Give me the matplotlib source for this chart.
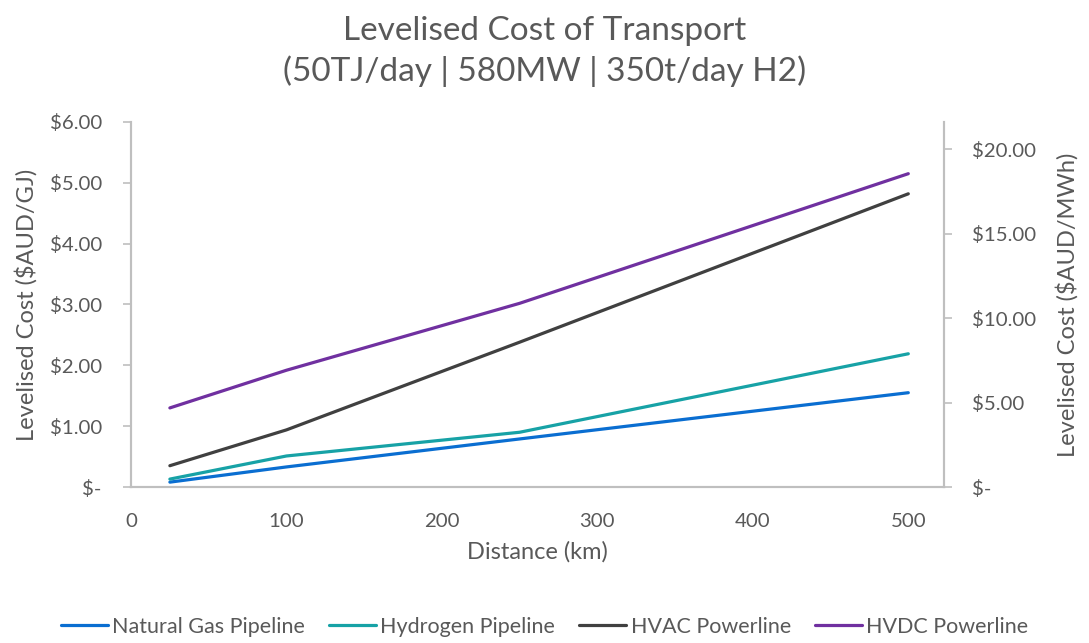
import matplotlib
matplotlib.use("Agg")
import matplotlib.pyplot as plt
from matplotlib.ticker import FuncFormatter, MultipleLocator

# distance (km)
distance = [25, 100, 250, 500]

# $AUD/GJ on the left axis
natural_gas = [0.08, 0.33, 0.79, 1.55]
hydrogen = [0.13, 0.51, 0.90, 2.19]
# $AUD/MWh on the right axis
hvac = [1.26, 3.38, 8.57, 17.35]
hvdc = [4.68, 6.91, 10.87, 18.54]

names = ["Natural Gas Pipeline", "Hydrogen Pipeline", "HVAC Powerline", "HVDC Powerline"]
colors = ["#0A6ED1", "#17A2A6", "#404040", "#7030A0"]

txt = "#595959"
grey = "#BFBFBF"
plt.rcParams["font.family"] = ["Lato", "DejaVu Sans"]


def money(v, pos):
    if abs(v) < 1e-9:
        return "$-"
    return "${:,.2f}".format(v)


fig = plt.figure(figsize=(10.89, 6.43), dpi=100)
ax = fig.add_axes([0.1203, 0.2426, 0.7466, 0.5677])
ax2 = ax.twinx()

l1, = ax.plot(distance, natural_gas, color=colors[0], lw=2.3, solid_capstyle="round")
l2, = ax.plot(distance, hydrogen, color=colors[1], lw=2.3, solid_capstyle="round")
l3, = ax2.plot(distance, hvac, color=colors[2], lw=2.3, solid_capstyle="round")
l4, = ax2.plot(distance, hvdc, color=colors[3], lw=2.3, solid_capstyle="round")

ax.set_xlim(0, 523)
ax.set_ylim(0, 6)
ax2.set_ylim(0, 21.6)
ax.xaxis.set_major_locator(MultipleLocator(100))
ax.yaxis.set_major_locator(MultipleLocator(1))
ax2.yaxis.set_major_locator(MultipleLocator(5))
ax.yaxis.set_major_formatter(FuncFormatter(money))
ax2.yaxis.set_major_formatter(FuncFormatter(money))

for a in (ax, ax2):
    a.spines["top"].set_visible(False)
    for s in ("left", "right", "bottom"):
        a.spines[s].set_color(grey)
        a.spines[s].set_linewidth(1.5)
    a.tick_params(colors=grey, labelcolor=txt, labelsize=14.7, width=1.2, length=6)
ax.tick_params(axis="x", length=0, pad=19)
ax.tick_params(axis="y", pad=15)
ax2.tick_params(axis="y", pad=14)

ax.set_xlabel("Distance (km)", fontsize=17, color=txt, labelpad=8)
ax.set_ylabel("Levelised Cost ($AUD/GJ)", fontsize=17, color=txt, labelpad=9)
ax2.set_ylabel("Levelised Cost ($AUD/MWh)", fontsize=17, color=txt, labelpad=14)

fig.text(0.5, 0.952, "Levelised Cost of Transport", ha="center", va="center",
         fontsize=24, color=txt)
fig.text(0.5, 0.89, "(50TJ/day | 580MW | 350t/day H2)", ha="center", va="center",
         fontsize=24, color=txt)

fig.legend([l1, l2, l3, l4], names, loc="center", bbox_to_anchor=(0.5, 0.025),
           ncol=4, frameon=False, fontsize=15.5, labelcolor=txt, handlelength=2.2,
           handletextpad=0.2, columnspacing=1.1)

fig.savefig("out.png", dpi=100)
